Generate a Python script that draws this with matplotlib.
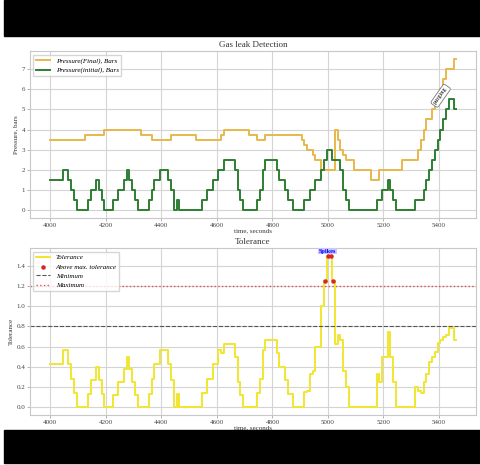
import numpy as np
import matplotlib
matplotlib.use('Agg')
import matplotlib.pyplot as plt
from matplotlib.patches import Rectangle

plt.rcParams['font.family'] = ['Liberation Serif', 'DejaVu Serif']

# time axis, one reading every 10 s
time = np.arange(4000, 5461, 10)

# Pressure(initial), bars
initial = np.array([
    1.5, 1.5, 1.5, 1.5, 1.5, 2, 2, 1.5, 1, 0.5,        # 4000
    0, 0, 0, 0, 0.5, 1, 1, 1.5, 1, 0.5,                # 4100
    0, 0, 0, 0.5, 0.5, 1, 1, 1.5, 2, 1.5,              # 4200
    1, 0.5, 0, 0, 0, 0, 0.5, 1, 1.5, 1.5,              # 4300
    2, 2, 2, 1.5, 1, 0, 0.5, 0, 0, 0,                  # 4400
    0, 0, 0, 0, 0, 0.5, 0.5, 1, 1, 1.5,                # 4500
    1.5, 2, 2, 2.5, 2.5, 2.5, 2.5, 2, 1, 0.5,          # 4600
    0, 0, 0, 0, 0, 0.5, 1, 2, 2.5, 2.5,                # 4700
    2.5, 2.5, 2, 1.5, 1.5, 1, 0.5, 0.5, 0, 0,          # 4800
    0, 0, 0.5, 0.5, 1, 1, 1.5, 1.5, 2, 2.5,            # 4900
    3, 3, 2.5, 2.5, 2.5, 2, 1, 0.5, 0, 0,              # 5000
    0, 0, 0, 0, 0, 0, 0, 0, 0.5, 0.5,                  # 5100
    1, 1, 1.5, 1, 0.5, 0, 0, 0, 0, 0,                  # 5200
    0, 0, 0.5, 0.5, 0.5, 1, 1.5, 2, 2.5, 3,            # 5300
    3.5, 4, 4.5, 5, 5.5, 5.5, 5,                       # 5400
])

# Pressure(Final), bars
final = np.array([
    3.5, 3.5, 3.5, 3.5, 3.5, 3.5, 3.5, 3.5, 3.5, 3.5,
    3.5, 3.5, 3.5, 3.75, 3.75, 3.75, 3.75, 3.75, 3.75, 3.75,
    4, 4, 4, 4, 4, 4, 4, 4, 4, 4,
    4, 4, 4, 3.75, 3.75, 3.75, 3.75, 3.5, 3.5, 3.5,
    3.5, 3.5, 3.5, 3.5, 3.75, 3.75, 3.75, 3.75, 3.75, 3.75,
    3.75, 3.75, 3.75, 3.5, 3.5, 3.5, 3.5, 3.5, 3.5, 3.5,
    3.5, 3.5, 3.75, 4, 4, 4, 4, 4, 4, 4,
    4, 4, 3.75, 3.75, 3.75, 3.5, 3.5, 3.5, 3.75, 3.75,
    3.75, 3.75, 3.75, 3.75, 3.75, 3.75, 3.75, 3.75, 3.75, 3.75,
    3.75, 3.5, 3.25, 3, 3, 2.75, 2.5, 2.5, 2, 2,
    2, 2, 2, 4, 3.5, 3, 2.75, 2.5, 2.5, 2.5,
    2, 2, 2, 2, 2, 2, 1.5, 1.5, 1.5, 2,
    2, 2, 2, 2, 2, 2, 2, 2.5, 2.5, 2.5,
    2.5, 2.5, 2.5, 3, 3.5, 4, 4.5, 4.5, 5, 5.5,
    5.5, 6, 6.5, 7, 7, 7, 7.5,
])

# tolerance is the ratio initial / final
tolerance = initial / final
min_tol = 0.8
max_tol = 1.2
above = tolerance > max_tol

fig = plt.figure(figsize=(4.8, 4.65), dpi=100)
fig.patch.set_facecolor('white')
# black bands of the screenshot
fig.patches.append(Rectangle((4/480, 1 - 36/465), 1, 36/465, transform=fig.transFigure,
                             color='black', zorder=0))
fig.patches.append(Rectangle((4/480, 2/465), 1, 33/465, transform=fig.transFigure,
                             color='black', zorder=0))

ax1 = fig.add_axes([0.0625, 0.531, 0.929, 0.359])
ax2 = fig.add_axes([0.0625, 0.1075, 0.929, 0.359])

for ax in (ax1, ax2):
    ax.grid(True, color='#d4d4d4', linewidth=0.8)
    ax.set_axisbelow(True)
    for s in ax.spines.values():
        s.set_color('#c8c8c8')
        s.set_linewidth(0.8)
    ax.tick_params(labelsize=5, length=2, width=0.5, color='#999999', pad=1.5,
                   labelcolor='#444444')
    ax.set_xticks(range(4000, 5401, 200))
    ax.set_xlabel('time, seconds', fontsize=5, labelpad=0.5, color='#333333')

# top: pressures
ax1.plot(time, final, color='#e8b84a', linewidth=1.4, drawstyle='steps-mid',
         label='Pressure(Final), Bars')
ax1.plot(time, initial, color='#2e7d32', linewidth=1.4, drawstyle='steps-mid',
         label='Pressure(initial), Bars')
ax1.set_yticks(range(0, 8))
ax1.set_ylabel('Pressure, bars', fontsize=5, labelpad=2, color='#333333')
ax1.set_title('Gas leak Detection', fontsize=6.5, pad=3, color='#333333')
ax1.legend(loc='upper left', prop={'style': 'italic', 'size': 5},
           frameon=True, edgecolor='#cccccc', fancybox=False)
ax1.text(5406, 5.67, 'purging', rotation=55, fontsize=4.5, ha='center', va='center',
         bbox=dict(boxstyle='round,pad=0.3', fc='white', ec='#777777', lw=0.6))

# bottom: tolerance
ax2.plot(time, tolerance, color='#f2e630', linewidth=1.4, drawstyle='steps-mid',
         label='Tolerance')
ax2.scatter(time[above], tolerance[above], color='#d62728', s=5, zorder=3,
            label='Above max. tolerance')
ax2.axhline(min_tol, color='#555555', linestyle='--', linewidth=0.8, label='Minimum')
ax2.axhline(max_tol, color='#e05050', linestyle=':', linewidth=1.0, label='Maximum')
ax2.set_yticks(np.arange(0, 1.41, 0.2))
ax2.set_yticklabels(['%.1f' % v for v in np.arange(0, 1.41, 0.2)])
ax2.set_ylabel('Tolerance', fontsize=5, labelpad=2, color='#333333')
ax2.set_title('Tolerance', fontsize=6.5, pad=3, color='#333333')
ax2.legend(loc='upper left', prop={'style': 'italic', 'size': 5},
           frameon=True, edgecolor='#cccccc', fancybox=False)
ax2.text(4998, 1.545, 'Spikes', fontsize=4.5, color='blue', fontweight='bold',
         ha='center', va='center',
         bbox=dict(boxstyle='square,pad=0.1', fc='#c8c8ff', ec='none'))

fig.savefig('out.png', dpi=100)
